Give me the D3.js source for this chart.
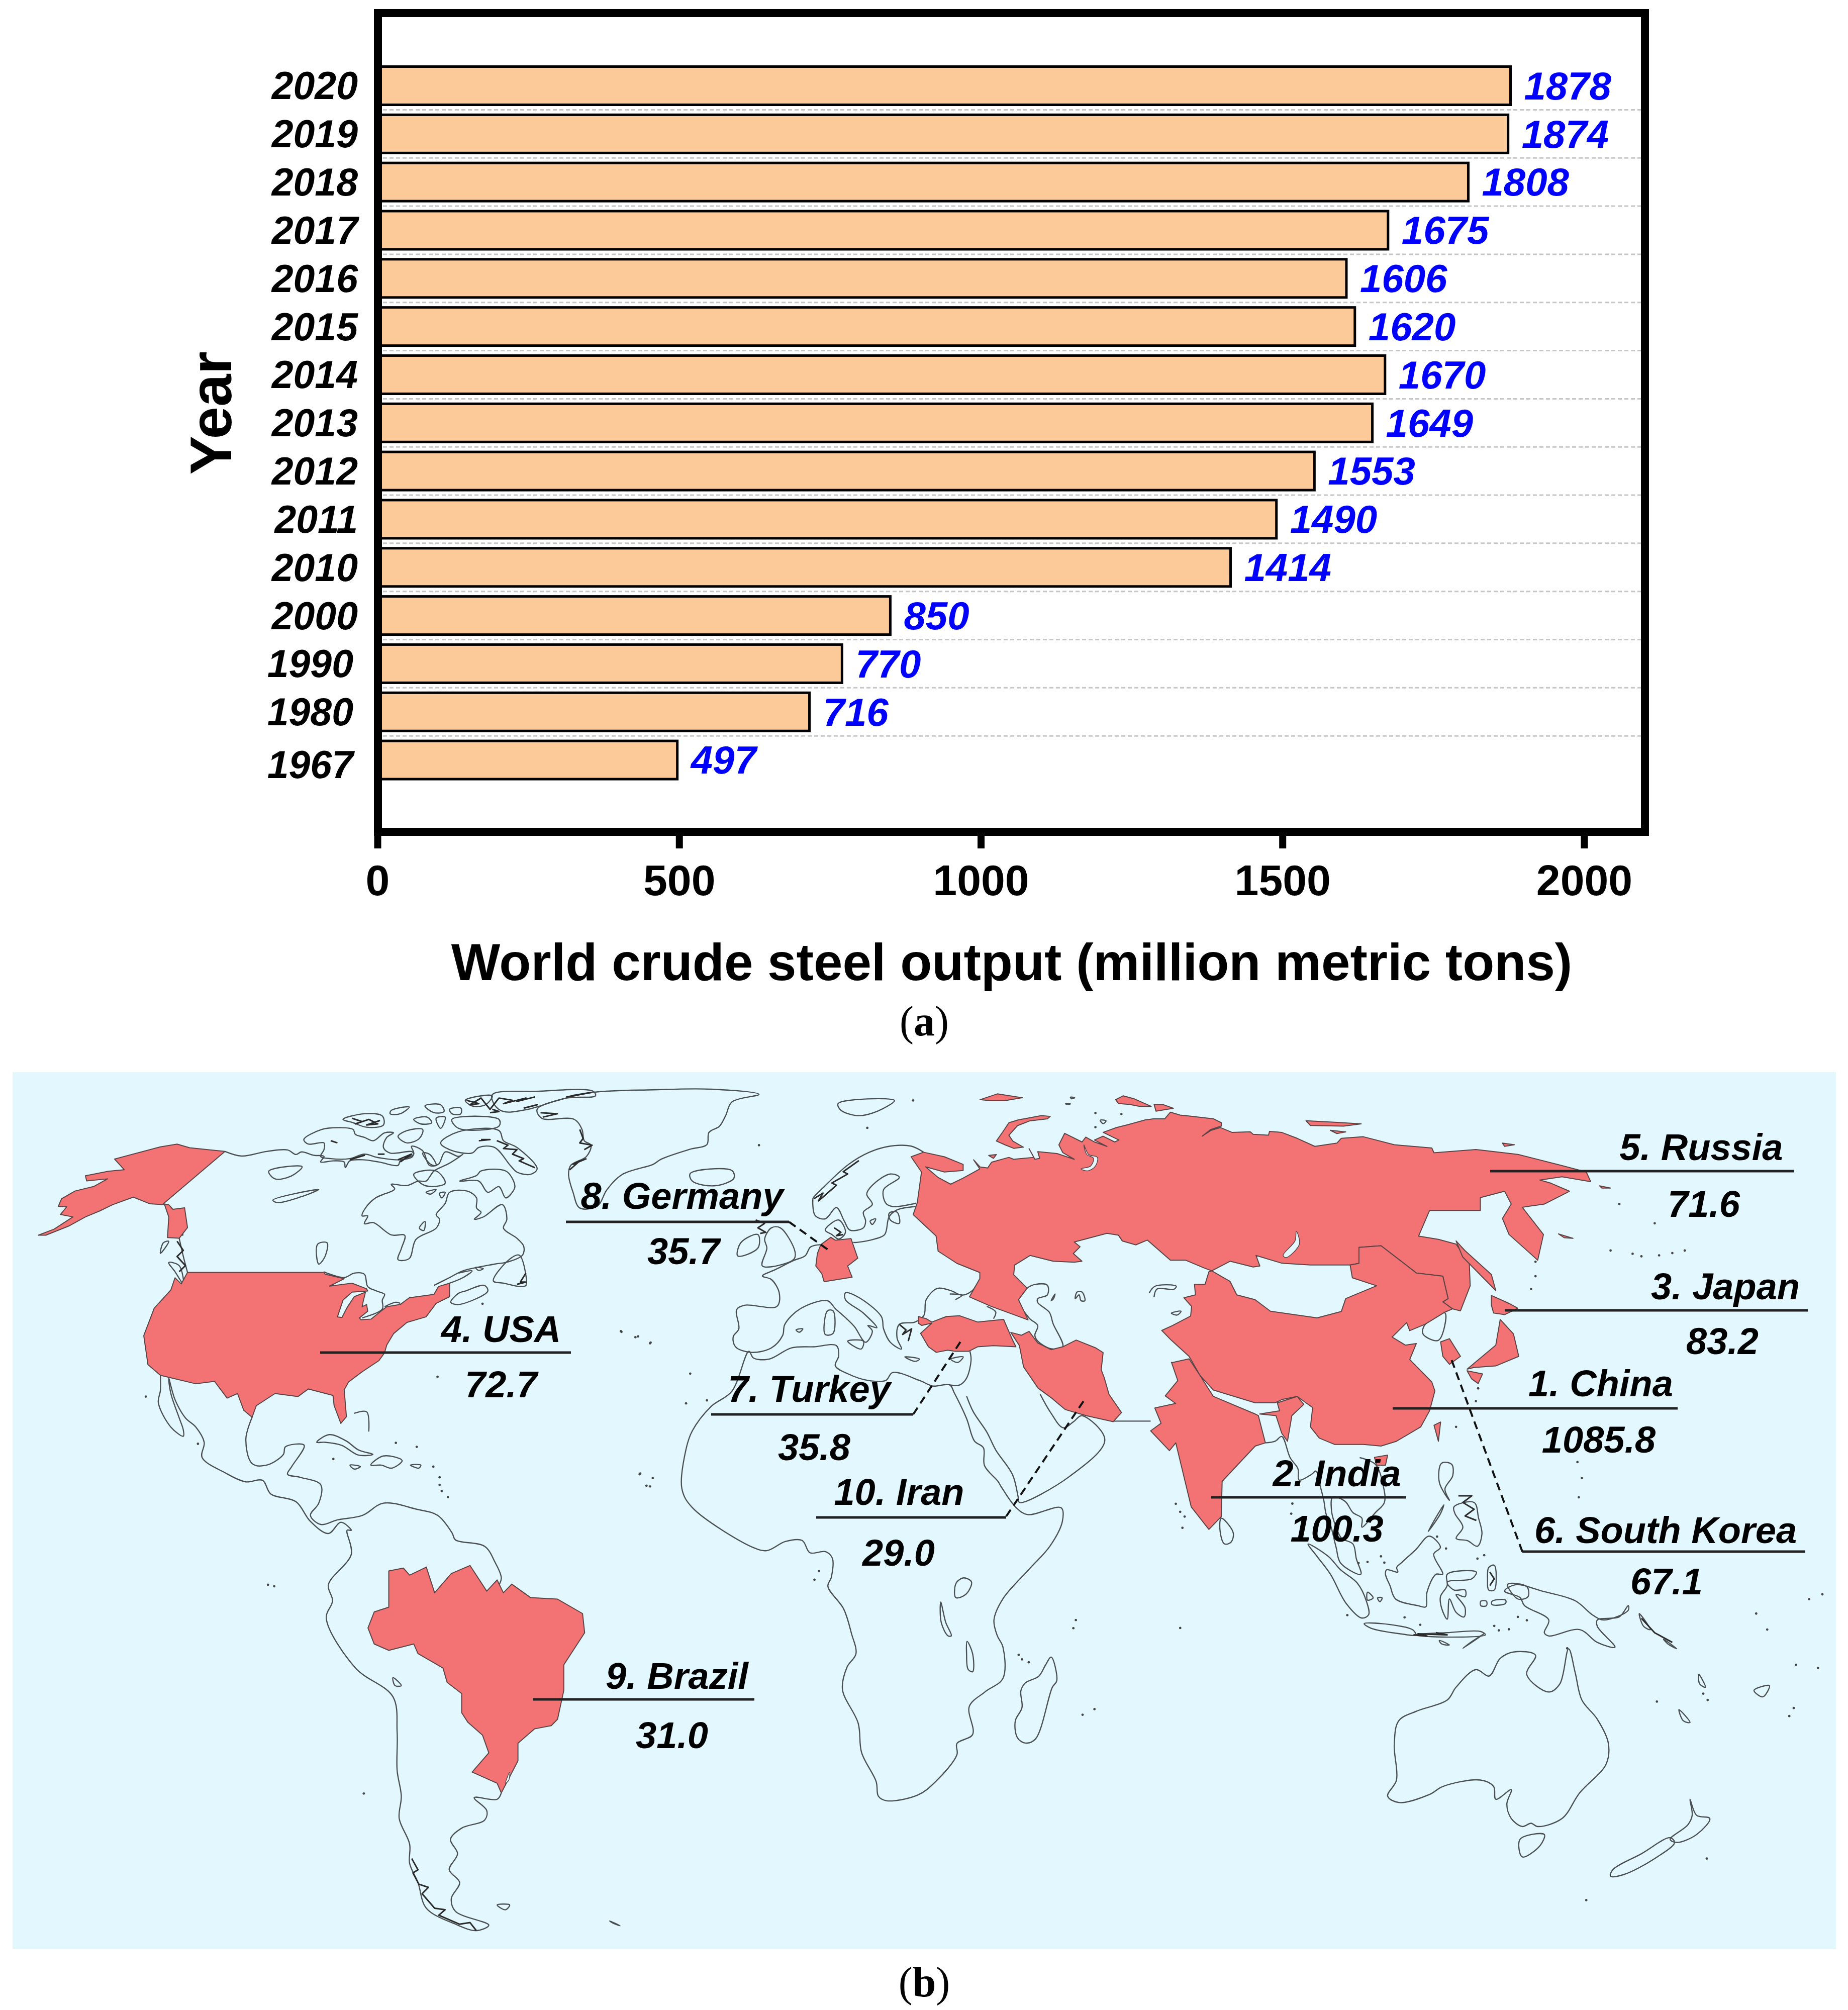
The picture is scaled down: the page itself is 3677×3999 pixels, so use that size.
<!DOCTYPE html>
<html lang="en">
<head>
<meta charset="utf-8">
<title>World crude steel output</title>
<script src="https://d3js.org/d3.v7.min.js"></script>
<style>
    html, body { margin: 0; padding: 0; background: #fff; }
    svg { display: block; }
    text { font-family: "Liberation Sans", Arial, sans-serif; }
    .caption { font-family: "Liberation Serif", serif; font-size: 84px; }
</style>
</head>
<body>
<div id="chart"></div>
<script>
// Panel (a) data
var years = ["2020","2019","2018","2017","2016","2015","2014","2013","2012","2011","2010","2000","1990","1980","1967"];
var output = [1878,1874,1808,1675,1606,1620,1670,1649,1553,1490,1414,850,770,716,497];
var outputTicks = [0,500,1000,1500,2000];

// Panel (b) data
var countryLabels = ["1. China","2. India","3. Japan","4. USA","5. Russia","6. South Korea","7. Turkey","8. Germany","9. Brazil","10. Iran"];
var countryOutput = ["1085.8","100.3","83.2","72.7","71.6","67.1","35.8","35.7","31.0","29.0"];

// Map outlines are traced off the picture. Each trace is read on one crop ("sheet"),
// the sheet says which part of the page it covers. [x, y, w, h]
var sheets = {
    A: [0,2100,1300,950], B: [1050,2150,1300,950], C: [500,3000,1300,999],
    D: [2300,2150,1377,1000], E: [1500,3000,700,700], F: [600,2140,700,700],
    G: [2500,2900,700,700], H: [1450,2300,700,700], I: [2300,3000,1377,999],
    J: [1950,2140,600,600]
};

// red countries
var alaska = [["A","540,315 392,487 405,490 415,505 443,500 450,565 430,600 402,598 405,530 395,490 360,487 320,465 270,490 240,510 205,530 165,560 110,590 92,590 130,570 175,530 145,522 160,497 140,495 148,470 180,445 225,430 258,405 208,412 205,395 260,380 298,375 275,340 335,318 385,300 425,291 455,303"]];
var usa = [["A","450,712 775,712"],["F","100,875 105,885 190,905 125,938 225,925 290,950 295,960 225,965 185,1000 160,1075 180,1078 205,1030 235,985 285,965 275,1005 270,1030 290,1020 295,1050 258,1080 265,1088 310,1085 360,1045 380,1030 440,1020 480,990 590,975 610,940 660,925 660,985 600,1015 555,1075 470,1100 410,1150 380,1200 370,1235 345,1270 270,1320 210,1365 190,1400 200,1520 175,1550 145,1470 140,1425"],["A","740,1095 715,1120 660,1110 615,1150 605,1188 585,1165 570,1110 545,1125 515,1070 470,1078 385,1050 355,1015 345,920 370,830 410,770 420,730 435,750"]];
var brazil = [["C","330,197 365,188 380,210 420,185 440,265 480,205 525,180 565,260 590,225 605,265 625,238 670,280 735,285 795,330 800,390 750,490 750,570 735,660 720,680 680,690 640,735 640,790 600,890 590,860 530,825 570,765 555,710 520,670 505,640 505,580 470,545 460,500 400,455 390,425 330,445 295,425 280,375 295,325 330,310"]];
var germany = [["H","455,362 475,375 545,368 575,455 530,490 550,540 425,560 415,525 388,490 395,435 410,395"]];
var turkey = [["H","845,715 880,725 905,740 970,715 1030,712 1110,740 1225,728 1265,820 1280,850 1180,845 1110,850 1070,870 1010,870 975,865 925,875 890,850 855,790 905,745 860,755 845,745"]];
var iran = [["J","160,1335 215,1350 255,1330 300,1390 370,1425 430,1410 500,1375 600,1415 640,1440 630,1530 645,1568"],["B","1395,1030 1425,1090 1405,1120 1340,1100 1290,1080 1255,1040 1225,1010 1190,940 1180,870"]];
var india = [["D","35,880 75,868 100,920 130,985 225,1040 232,1045 248,1130 225,1140 150,1250 148,1360 120,1400 80,1330 45,1130"],["B","1540,1215 1495,1150 1520,1125 1505,1075 1555,1060 1530,1035 1560,985 1545,925"]];
var indiaEast = [["D","235,1040 280,1030 275,1005 320,985 335,1010 308,1045 298,1125 285,1100 272,1045"]];
var china = [["J","945,1325 1000,1300 1095,1250 1100,1200 1060,1155 1120,1140 1115,1085 1170,1085 1190,1020 1205,1015 1300,1070 1335,1140 1430,1165 1510,1225"],["D","365,740 420,720 430,680 500,640 445,615 440,575 460,570 460,520 510,515 590,600 650,610 662,680 650,690 672,712 655,722 610,760 575,780 568,755 535,800 565,825 590,820 575,870 625,940 632,968 620,1030 600,1080 545,1125 510,1140 470,1135 405,1135 370,1115 350,1080 355,1020 340,1005 320,985 285,995 270,1005 225,1005 130,965 100,920 75,860 35,810"]];
var russia = [
    ["J","1568,295 1505,290 1500,310 1420,305 1405,292 1310,295 1250,270 1200,285 1155,315 1200,280 1255,262 1255,245 1215,225 1085,210 1040,205 990,190 960,225 900,225 860,230 770,255 710,270 640,295 722,335 700,345 640,315 595,335 660,368 595,345 550,320 530,345 440,300 410,360 430,400 490,435 400,405 300,395 310,430 285,435 255,380 280,425 175,435 150,425 60,450 40,480 0,475"],
    ["B","1070,260 1085,290 1045,320 1015,340 985,318 955,283 1000,300 1045,295 1045,275 1000,250 950,235 920,250 945,300 935,400 925,440 980,510 985,560 1030,600 1085,630 1085,650 1060,710 1110,740"],
    ["J","250,1270 200,1165 245,1105 175,1035 180,985 260,935 380,965 490,970 530,965 485,925 520,890 490,865 660,820 720,830 740,860 810,880 870,855 990,960 1070,960 1165,1000 1205,1015 1300,965 1420,995 1455,990 1435,935 1568,975"],
    ["D","290,570 350,575 440,575 460,570 460,520 510,515 590,600 650,610 662,680 650,690 672,712 690,718 712,640 710,570 680,510 640,495 595,485 620,405 735,405 735,365 790,345 805,385 785,430 800,480 865,560 878,480 830,395 880,385 937,345 895,320 870,310 920,300 985,315 975,285 920,265 820,230 725,215 630,225 625,210 540,200 470,175 420,180 410,195 360,205 320,180"]
];
var redIslands = [
    [["J","365,212 320,208 200,230 150,245 120,290 85,340 130,360 175,378 225,372 170,340 150,310 195,260 260,235 350,225"]],
    [["J","705,125 745,105 800,120 890,160 830,160 780,150 720,145"]],
    [["J","905,150 950,150 1005,170 915,185"]],
    [["J","0,125 90,95 220,115 130,130 50,130"]],
    [["J","45,415 85,410 70,430"]],
    [["D","340,125 410,130 465,135 425,142 350,140"]],
    [["D","395,155 430,160 410,165"]],
    [["D","785,195 812,200 790,205"]],
    [["D","680,500 700,530 760,605 770,655 745,620 695,550"]],
    [["D","1005,328 1030,335 1010,335"]],
    [["D","912,478 945,492 925,490"]],
    [["D","760,670 800,695 820,710 790,730 765,725 760,700"]],
    [["D","780,745 810,790 822,860 770,890 720,895 705,900 770,825"]],
    [["D","705,905 740,915 730,945 715,930"]],
    [["D","645,815 665,805 690,860 665,885 650,860"]],
    [["D","630,1075 645,1065 640,1125"]],
    [["D","495,1175 525,1168 520,1200 500,1200"]]
];
var whiteLakes = [
    [["D","318,470 325,510 295,552 288,545 315,500"]],
    [["C","610,860 620,825 618,850"]],
    [["J","540,360 565,410 610,425 600,470 560,495 525,485 575,470 590,430 555,410"]]
];

// coast lines, closed ones
var closedCoasts = [
    [["F","1050,150 1070,190 1215,195 1250,240 1260,290 1290,310 1270,360 1200,400 1190,440 1210,520 1240,590 1320,580 1360,510 1430,440 1568,395"],["B","320,258 390,225 430,210 435,170 460,150 475,115 490,70 555,45 440,28 300,30 160,38"],["F","1180,100"]],
    [["F","10,285 90,240 170,232 230,240 240,262 280,275 320,290 370,255 410,255 380,275 365,320 395,345 495,340 495,360 440,375 340,365 280,350 215,370 130,370 85,360 100,330 100,300 30,305"]],
    [["F","620,300 700,250 880,245 900,290 960,320 1050,415 1020,440 960,430 930,400 860,320 790,320 760,345 660,330"]],
    [["F","705,470 780,445 800,425 910,425 945,470 950,500 910,545 880,495 830,520 790,470"]],
    [["F","500,440 600,425 640,480 550,490"]],
    [["F","430,270 470,245 540,240 525,280 470,300 435,280"]],
    [["F","540,345 570,350 600,400 575,395"]],
    [["F","555,520 600,508 575,528"]],
    [["F","615,525 640,520 625,545"]],
    [["F","525,680 550,650 545,690"]],
    [["F","185,195 280,170 360,180 365,220 290,230 230,210"]],
    [["F","400,155 480,140 440,170 395,170"]],
    [["F","550,135 620,130 635,160 590,165"]],
    [["F","660,150 710,145 710,170 670,170"]],
    [["F","500,195 560,185 580,210 530,215"]],
    [["F","600,190 640,185 620,235"]],
    [["F","670,195 880,195 880,225 700,235"]],
    [["F","730,110 850,90 820,130 760,135"]],
    [["F","850,85 1050,70 1300,70 1310,90 1180,100 1010,150 900,160 860,130"]],
    [["F","665,1010 700,1020 830,960 815,935 730,960 700,970"]],
    [["F","855,915 925,820 970,800 1000,890 1000,935 975,940 900,925"]],
    [["F","775,855 810,860 790,868"]],
    [["A","645,380 725,365 700,395 660,405"]],
    [["A","655,475 765,440 720,465 665,483"]],
    [["A","762,620 785,615 780,660 765,685"]],
    [["A","392,615 405,610 385,650"]],
    [["A","405,680 430,690 440,750 420,710"]],
    [["A","760,1270 790,1245 830,1265 860,1295 895,1310 860,1312 820,1280 780,1270"]],
    [["A","890,1345 920,1315 965,1330 940,1355 915,1345"]],
    [["A","840,1345 865,1350 850,1358"]],
    [["A","985,1345 1010,1345 1005,1355"]],
    [["B","390,305 490,295 495,320 450,345 395,330"]],
    [["B","745,75 880,65 840,100 790,115 750,95"]],
    [["H","190,320 230,320 295,425 290,460 150,490 170,410 160,370"]],
    [["H","55,385 130,350 130,410 40,445"]],
    [["H","430,330 490,285 520,340 490,370 460,350"]],
    [["H","630,290 655,280 640,305"]],
    [["H","440,690 465,690 465,790 430,795"]],
    [["H","530,825 600,825 590,860"]],
    [["H","300,775 330,770 315,785"]],
    [["H","785,895 850,905 830,915"]],
    [["H","990,905 1045,895 1020,920"]],
    [["H","715,255 750,250 760,300 720,285"]],
    [["J","245,1105 290,1085 350,1090 350,1140 300,1160 300,1180 360,1230 380,1290 430,1410 370,1420 300,1380 285,1350 300,1300 255,1260 200,1165"]],
    [["J","495,1160 505,1125 530,1125 545,1170 525,1170 515,1140"]],
    [["J","995,1235 1045,1225 1025,1245"]],
    [["J","370,1170 390,1135 382,1160"]],
    [["J","470,112 492,115 475,120"]],
    [["J","445,145 470,147 450,150"]],
    [["J","625,232 655,235 640,250"]],
    [["D","610,760 605,790 640,810 655,725"]],
    [["D","148,1365 175,1410 170,1440 155,1445 145,1400"]],
    [["E","1325,665 1350,770 1330,800 1255,1030 1210,1048 1175,1025 1165,950 1195,890 1190,815 1210,780 1270,750 1300,700"]],
    [["E","905,330 935,312 970,330 945,385 900,400 895,360"]],
    [["E","833,420 855,510 880,570 865,570 835,510"]],
    [["E","950,595 975,650 975,730 955,720 948,650"]],
    [["C","340,530 360,555 345,555"]],
    [["C","590,1240 620,1240 610,1255"]],
    [["C","860,1290 885,1305 870,1298"]],
    [["G","230,385 320,440 375,500 450,560 490,640 500,700 470,715 400,650 330,520 270,440"]],
    [["G","480,740 560,740 680,760 700,770 710,790 640,785 510,760"]],
    [["G","700,790 850,780 1000,775 1020,790 850,800"]],
    [["G","920,850 1015,785 960,820"]],
    [["G","815,815 860,835 825,830"]],
    [["G","580,500 630,510 625,490 650,465 710,410 770,350 820,400 790,430 830,520 800,520 760,600 755,665 720,660 620,630 595,570 575,520"]],
    [["G","765,330 835,210 820,250"]],
    [["G","825,25 870,30 875,80 840,140 860,190 815,110"]],
    [["G","880,220 970,200 990,270 1005,340 985,395 940,370 890,360 920,310 885,250"]],
    [["G","850,520 980,510 960,540 850,555 880,590 930,590 930,620 890,610 930,670 925,710 890,690 860,630 850,720 825,670 820,620 850,570"]],
    [["G","1035,490 1060,480 1060,590 1035,590 1030,540"]],
    [["G","1050,640 1110,635 1110,650 1050,655"]],
    [["G","1000,640 1025,640 1025,660 1000,660"]],
    [["G","1120,565 1205,575 1210,620 1165,630"]],
    [["G","495,600 520,625 495,635"]],
    [["G","540,625 560,625 550,642"]],
    [["I","815,240 875,260 950,290 990,335 1015,350 1070,320 1070,305 1050,340 1000,350 1000,370 1040,435 1000,420 960,380 890,400 880,390 890,350 835,305 825,280 790,260"]],
    [["I","935,440 950,515 965,600 1000,660 1025,735 1020,800 960,890 920,970 865,995 850,985 830,995 805,970 795,925 805,880 770,910 765,870 735,850 650,870 620,895 550,920 525,900 545,850 540,740 550,665 590,635 660,600 680,560 725,505 755,525 780,470 810,450 860,460 840,520 890,575 915,550"]],
    [["I","825,1035 880,1020 870,1055 830,1090"]],
    [["I","1030,1150 1035,1130 1100,1080 1165,1030 1175,1045 1130,1095 1060,1145"]],
    [["I","1210,910 1225,960 1255,970 1225,1020 1180,1045 1165,1035 1205,990 1215,960"]],
    [["I","1185,630 1210,670 1195,665"]],
    [["I","1355,570 1390,555 1375,590"]],
    [["I","1095,330 1120,380 1105,370"]],
    [["I","1150,410 1180,440 1160,425"]],
    [["I","1230,520 1245,560 1232,550"]],
    // Africa
    [["H","90,870 110,900 180,905 280,855 380,850 480,845 490,890 475,935 530,970 620,1000 700,1000 730,965 850,1000 910,1025 985,1020 1005,1055 1060,1170 1095,1270 1135,1300 1140,1380 1200,1450 1215,1475"],["E","1170,0 1220,30 1370,0 1375,60 1320,170 1230,270 1110,405 1070,500 1085,570 1110,620 1110,760 1030,820 960,885 975,1010 905,1050 905,1100 810,1220 730,1280 590,1305 555,1285 545,1220 480,1090 465,960 395,810 415,710 455,650 435,560 400,450 330,350 345,310 350,225 320,195 250,200 215,145 140,150 60,190 0,178"],["B","395,1402 370,1340 380,1210 395,1150 440,1070 490,1020"]]
];

// coast lines, open ones
var openCoasts = [
    // arctic Canada down Hudson Bay to the St Lawrence
    [["A","540,315 580,330 640,315 690,310 710,325"],["F","0,340 55,355 100,360 85,385 140,380 190,385 195,410 215,380 270,375 345,385 430,400 440,380 500,350 490,315 540,335 570,400 610,395 640,340 700,360 720,350 660,390 590,425 575,445 555,470 520,470 470,490 400,485 415,505 330,545 285,590 270,625 295,625 280,660 320,655 400,710 460,712 445,770 430,820 480,815 510,730 600,680 615,640 600,620 640,570 660,520 740,515 780,545 780,590 800,610 770,640 810,630 895,575 915,640 900,680 960,725 990,760 985,800 920,830 860,840 720,870 660,900 590,935"]],
    [["F","660,925 720,900 760,870 700,880"]],
    // Great Lakes north shore
    [["F","100,875 190,900 235,880 280,885 295,940 335,960 370,975 360,1000 360,1040 270,1080"]],
    [["F","370,1030 420,1010 440,1015"]],
    // panhandle down to the 49th parallel
    [["A","430,600 440,660 450,712"]],
    // Mexico and Central America
    [["A","605,1188 590,1260 605,1340 640,1345 680,1310 685,1285 730,1280 700,1350 690,1375 720,1385 770,1410 765,1470 745,1510 770,1540 810,1525 870,1510 920,1470 1000,1490 1050,1510 1085,1568"],["C","490,100 560,120 585,170 600,220 590,250"]],
    [["A","385,1050 385,1100 380,1140 410,1220 440,1250 440,1230 430,1190 410,1110 405,1060 420,1130 445,1190 470,1220 490,1270 485,1320 540,1370 590,1400 630,1395 650,1440 710,1465 745,1530"],["C","185,80 215,45 240,70 230,70 240,145 185,240 195,290 180,345 250,500 340,590 350,700 350,820 360,900 355,970 380,1050 380,1110 400,1170 420,1250 490,1300 540,1320 570,1303 490,1260 480,1220 500,1170 475,1130 495,1080 478,1035 505,1000 560,975 565,945 535,905 590,910 600,890"]],
    // Bahamas
    [["A","850,1175 880,1170 885,1235"]],
    // Europe: Norway round the Baltic
    [["B","950,235 920,215 870,215 820,235 770,275 710,350 685,385"],["H","375,190 385,265 430,280 480,230 515,290 540,330 600,320 610,290 600,250 640,215 615,170 640,130 720,80 760,95 690,150 700,210 730,225 835,210"]],
    [["H","835,225 750,240 715,270 695,350 650,370 570,385 555,385"]],
    // Channel round Iberia, Italy and Greece to the Black Sea
    [["H","410,395 365,405 340,445 290,465 210,505 150,535 190,550 225,610 215,670 70,665 35,685 45,770 20,805 30,850 100,875 190,855 240,800 250,750 320,680 440,645 475,680 520,720 560,760 610,830 640,780 620,755 660,765 600,700 520,640 520,610 570,625 680,715 690,770 720,830 770,860 750,810 760,750 830,740 870,710 880,640 930,590 990,600 1040,620 1085,600 1110,565"]],
    [["H","985,615 1040,620 1010,640"]],
    [["H","1150,670 1190,695 1180,725"]],
    // Levant, Arabia, Gulf
    [["H","1075,870 1080,910 1060,990 1030,1020 985,1020"]],
    [["H","1060,1070 1090,1140 1150,1230 1190,1310 1265,1420 1290,1520"],["B","1180,1385 1300,1300 1385,1180 1330,1100 1310,1120 1285,1140 1255,1090 1230,1030"]],
    [["J","880,1130 910,1095 1020,1095 1010,1110 920,1110 905,1150"]],
    // Pakistan, and Bay of Bengal round Indochina
    [["B","1405,1118 1495,1118"]],
    [["D","248,1130 270,1125 285,1110"],["G","150,0 185,50 190,100 245,75 265,60 285,130 300,190 310,250 330,300 355,400 375,470 465,520 445,450 430,385 380,360 355,310 335,240 340,175 395,195 430,245 470,270 470,310 530,245 570,200 565,125 530,30 460,0"]]
];

// dense dark parts of the coast where islands crowd together
var crowdedCoasts = [
    [["F","225,190 270,205 240,215 300,195 340,215 290,220 350,200"]],
    [["F","735,110 790,125 750,130 800,100 840,150 880,100 940,110 900,125 1000,100 960,115 1040,95"]],
    [["F","850,150 880,160 840,165"]],
    [["F","1010,140 1050,130 990,145"]],
    [["F","1180,95 1290,75 1200,90"]],
    [["F","870,290 920,310 900,325 960,330 940,350 990,370 970,380 1040,410"]],
    [["F","800,285 840,285 790,290"]],
    [["F","1240,240 1255,280 1240,300 1295,310 1260,330"]],
    [["F","1270,370 1210,395 1240,380 1195,420"]],
    [["F","1065,165 1140,170 1075,185"]],
    [["F","215,375 280,355 230,370"]],
    [["F","340,350 370,350"]],
    [["F","430,375 490,350 440,385"]],
    [["F","130,290 160,300"]],
    [["F","1000,880 975,920 1000,920 960,930"]],
    [["A","410,510 440,520 410,540 440,555 410,575 440,590"]],
    [["A","425,610 440,640 425,660 445,690 430,710"]],
    [["H","120,285 160,300 130,320 165,340 140,345"]],
    [["H","470,320 500,340 480,355 510,350"]],
    [["H","760,750 790,775 775,795 815,770 800,825"]],
    [["H","380,190 420,165 400,200 480,130 460,120 530,80 510,70 580,20"]],
    [["G","900,170 960,170 920,200 970,230 930,260 980,280"]],
    [["G","700,790 760,795 720,785 850,790 800,780"]],
    [["G","1040,510 1060,540 1040,570"]],
    [["I","1100,345 1130,390 1170,420"]],
    [["C","385,1095 400,1130 388,1140 402,1175 425,1185 410,1205 440,1250 465,1255 450,1272 500,1300 525,1295 540,1320"]]
];

// scattered islets, drawn as dots
var isletDots = [
    ["E","270,320 290,282 1424,536 1518,897 1465,922 1180,655 1195,675 1225,688 1435,500"],
    ["A","350,1120 1050,1055 1158,815 1490,905 1525,925 1560,945 1535,1375 1560,1415 1040,1350 1055,1385 1055,1410 1060,1430 1075,1450 800,1325 475,1275 950,1272 1000,1285"],
    ["B","225,825 265,840 295,860 390,962 380,1060 430,1050 270,1290 300,1305 285,1330 555,212 815,155 925,65"],
    ["D","1130,445 1080,540 1100,548 1140,545 1170,538 1198,530 1030,530 1050,385 860,565 860,610 850,650 730,960 725,1000 680,1080 955,1190 965,1240 958,1300 45,1320 55,1345 65,1360 60,1395"],
    ["I","1450,490 1500,500 1360,330 1385,380 1510,270 1480,285 1250,600 1445,625 1435,650 1135,605 975,1225 1248,1095 55,375 1240,580"],
    ["G","555,440 570,468 495,465 455,470 405,702 660,712 730,745 1060,750 1080,770 1165,710 1205,725 1125,765 845,405 985,450 1015,435 805,352 160,205 155,250 1385,850"],
    ["C","40,240 55,245 270,892"],
    ["J","600,195 735,200 600,268"]
];

// callouts, in page px: where the leader runs and where the two texts stand
var callouts = [
    {x1:2771, x2:3338, y:2802, tx:3185, ty:2778, vx:3181, vy:2890},
    {x1:2410, x2:2798, y:2979, tx:2660, ty:2957, vx:2660, vy:3067},
    {x1:2994, x2:3597, y:2607, tx:3433, ty:2585, vx:3427, vy:2694},
    {x1:637,  x2:1136, y:2691, tx:997,  ty:2670, vx:997,  vy:2780},
    {x1:2965, x2:3569, y:2330, tx:3385, ty:2308, vx:3390, vy:2421},
    {x1:3029, x2:3592, y:3087, tx:3314, ty:3070, vx:3316, vy:3172, dash:[3029,3087,2888,2705]},
    {x1:1415, x2:1817, y:2814, tx:1610, ty:2789, vx:1620, vy:2905, dash:[1817,2814,1912,2668]},
    {x1:1126, x2:1570, y:2431, tx:1357, ty:2405, vx:1360, vy:2515, dash:[1570,2431,1651,2489]},
    {x1:1060, x2:1501, y:3381, tx:1347, ty:3360, vx:1337, vy:3478},
    {x1:1624, x2:2002, y:3019, tx:1789, ty:2994, vx:1788, vy:3115, dash:[2002,3017,2161,2780]}
];

var svg = d3.select("#chart").append("svg")
    .attr("width", 3677)
    .attr("height", 3999);

// ---- panel (a) ----
var xScale = d3.scaleLinear().domain([0, 2100]).range([751, 3272]);
var yScale = d3.scaleBand().domain(years).range([122.6, 1560]).paddingInner(0.207).paddingOuter(0.1035);

// dashed lines between the bars
svg.append("g").selectAll("line")
    .data(years.slice(0, -1))
    .enter().append("line")
    .attr("x1", 762)
    .attr("x2", 3266)
    .attr("y1", function (d) { return yScale(d) + yScale.bandwidth() + yScale.step() * 0.1035; })
    .attr("y2", function (d) { return yScale(d) + yScale.bandwidth() + yScale.step() * 0.1035; })
    .attr("stroke", "#c6c6c6")
    .attr("stroke-width", 3)
    .attr("stroke-dasharray", "8 5");

svg.append("g").selectAll("rect")
    .data(years)
    .enter().append("rect")
    .attr("x", xScale(0))
    .attr("y", function (d) { return yScale(d); })
    .attr("width", function (d, i) { return xScale(output[i]) - xScale(0); })
    .attr("height", yScale.bandwidth())
    .attr("fill", "#fcc998")
    .attr("stroke", "#000")
    .attr("stroke-width", 5);

svg.append("g").selectAll("text")
    .data(years)
    .enter().append("text")
    .attr("x", function (d, i) { return xScale(output[i]) + 27; })
    .attr("y", function (d) { return yScale(d) + yScale.bandwidth() / 2; })
    .attr("dy", "0.35em")
    .attr("fill", "#0000ff")
    .style("font", "italic bold 78px 'Liberation Sans'")
    .text(function (d, i) { return output[i]; });

// frame
svg.append("rect")
    .attr("x", 752).attr("y", 26)
    .attr("width", 2521).attr("height", 1629)
    .attr("fill", "none")
    .attr("stroke", "#000")
    .attr("stroke-width", 16);

var xAxis = svg.append("g")
    .attr("transform", "translate(0,1655)")
    .call(d3.axisBottom(xScale).tickValues(outputTicks).tickSize(33).tickFormat(d3.format("d")));
xAxis.select(".domain").remove();
xAxis.selectAll("line").attr("stroke", "#000").attr("stroke-width", 14);
xAxis.selectAll("text")
    .attr("y", 126).attr("dy", 0)
    .attr("fill", "#000")
    .style("font", "bold 86px 'Liberation Sans'");

var yAxis = svg.append("g")
    .attr("transform", "translate(744,0)")
    .call(d3.axisLeft(yScale).tickSize(0));
yAxis.select(".domain").remove();
yAxis.selectAll("text")
    .attr("x", function (d) { return (d === "1990" || d === "1980" || d === "1967") ? -41 : -32; })
    .attr("dy", function (d) { return d === "1967" ? "0.47em" : "0.35em"; })
    .attr("fill", "#000")
    .style("font", "italic bold 77px 'Liberation Sans'");

svg.append("text")
    .attr("x", 2013).attr("y", 1950)
    .attr("text-anchor", "middle")
    .style("font", "bold 103.3px 'Liberation Sans'")
    .text("World crude steel output (million metric tons)");

svg.append("text")
    .attr("transform", "translate(460,822) rotate(-90)")
    .attr("text-anchor", "middle")
    .style("font", "bold 116px 'Liberation Sans'")
    .text("Year");

var capA = svg.append("text").attr("class", "caption").attr("x", 1839).attr("y", 2060).attr("text-anchor", "middle");
capA.append("tspan").text("(");
capA.append("tspan").attr("font-weight", "bold").text("a");
capA.append("tspan").text(")");

// ---- panel (b) ----
svg.append("rect")
    .attr("x", 25).attr("y", 2133)
    .attr("width", 3628).attr("height", 1745)
    .attr("fill", "#e3f7ff");

var sheetScales = {};
Object.keys(sheets).forEach(function (k) {
    var s = sheets[k];
    sheetScales[k] = {
        x: d3.scaleLinear().domain([0, 1568]).range([s[0], s[0] + s[2]]),
        y: d3.scaleLinear().domain([0, 1568]).range([s[1], s[1] + s[3]])
    };
});

var readTrace = function (segments) {
    var pts = [];
    segments.forEach(function (seg) {
        var sc = sheetScales[seg[0]];
        seg[1].split(" ").forEach(function (p) {
            var v = p.split(",");
            pts.push([sc.x(+v[0]), sc.y(+v[1])]);
        });
    });
    return pts;
};

// a little rounding takes the ruler look off the long coasts,
// the red countries keep their corners (49th parallel, Alaska border)
var line = d3.line().curve(d3.curveCatmullRom.alpha(0.5));
var closedLine = d3.line().curve(d3.curveCatmullRomClosed.alpha(0.5));
var jagged = d3.line();
var jaggedClosed = d3.line().curve(d3.curveLinearClosed);

var mapClip = svg.append("clipPath").attr("id", "mapClip");
mapClip.append("rect").attr("x", 25).attr("y", 2133).attr("width", 3628).attr("height", 1745);
var map = svg.append("g").attr("clip-path", "url(#mapClip)");

map.append("g").selectAll("path")
    .data(closedCoasts)
    .enter().append("path")
    .attr("d", function (d) { return closedLine(readTrace(d)); })
    .attr("fill", "none")
    .attr("stroke", "#4a4f52")
    .attr("stroke-width", 2.4)
    .attr("stroke-linejoin", "round");

map.append("g").selectAll("path")
    .data(openCoasts)
    .enter().append("path")
    .attr("d", function (d) { return line(readTrace(d)); })
    .attr("fill", "none")
    .attr("stroke", "#4a4f52")
    .attr("stroke-width", 2.4)
    .attr("stroke-linejoin", "round");

map.append("g").selectAll("path")
    .data(crowdedCoasts)
    .enter().append("path")
    .attr("d", function (d) { return jagged(readTrace(d)); })
    .attr("fill", "none")
    .attr("stroke", "#2a2a2a")
    .attr("stroke-width", 3)
    .attr("stroke-linejoin", "round");

var dots = [];
isletDots.forEach(function (d) { dots = dots.concat(readTrace([d])); });
map.append("g").selectAll("circle")
    .data(dots)
    .enter().append("circle")
    .attr("cx", function (d) { return d[0]; })
    .attr("cy", function (d) { return d[1]; })
    .attr("r", 2.4)
    .attr("fill", "#444");

var redShapes = [russia, china, india, indiaEast, usa, alaska, brazil, germany, turkey, iran].concat(redIslands);
map.append("g").selectAll("path")
    .data(redShapes)
    .enter().append("path")
    .attr("d", function (d) { return jaggedClosed(readTrace(d)); })
    .attr("fill", "#f37375")
    .attr("stroke", "#5a4445")
    .attr("stroke-width", 2)
    .attr("stroke-linejoin", "round");

map.append("g").selectAll("path")
    .data(whiteLakes)
    .enter().append("path")
    .attr("d", function (d) { return closedLine(readTrace(d)); })
    .attr("fill", "#e3f7ff")
    .attr("stroke", "#5a4445")
    .attr("stroke-width", 1.5);

// country callouts
var callout = svg.append("g").selectAll("g")
    .data(countryLabels)
    .enter().append("g");

callout.append("line")
    .attr("x1", function (d, i) { return callouts[i].x1; })
    .attr("x2", function (d, i) { return callouts[i].x2; })
    .attr("y1", function (d, i) { return callouts[i].y; })
    .attr("y2", function (d, i) { return callouts[i].y; })
    .attr("stroke", "#222")
    .attr("stroke-width", 5);

callout.filter(function (d, i) { return callouts[i].dash; }).append("line")
    .attr("x1", function (d) { return callouts[countryLabels.indexOf(d)].dash[0]; })
    .attr("y1", function (d) { return callouts[countryLabels.indexOf(d)].dash[1]; })
    .attr("x2", function (d) { return callouts[countryLabels.indexOf(d)].dash[2]; })
    .attr("y2", function (d) { return callouts[countryLabels.indexOf(d)].dash[3]; })
    .attr("stroke", "#111")
    .attr("stroke-width", 4)
    .attr("stroke-dasharray", "16 10");

callout.append("text")
    .attr("x", function (d, i) { return callouts[i].tx; })
    .attr("y", function (d, i) { return callouts[i].ty; })
    .attr("text-anchor", "middle")
    .style("font", "italic bold 74px 'Liberation Sans'")
    .text(function (d) { return d; });

callout.append("text")
    .attr("x", function (d, i) { return callouts[i].vx; })
    .attr("y", function (d, i) { return callouts[i].vy; })
    .attr("text-anchor", "middle")
    .style("font", "italic bold 74px 'Liberation Sans'")
    .text(function (d, i) { return countryOutput[i]; });

var capB = svg.append("text").attr("class", "caption").attr("x", 1839).attr("y", 3972).attr("text-anchor", "middle");
capB.append("tspan").text("(");
capB.append("tspan").attr("font-weight", "bold").text("b");
capB.append("tspan").text(")");
</script>
</body>
</html>
